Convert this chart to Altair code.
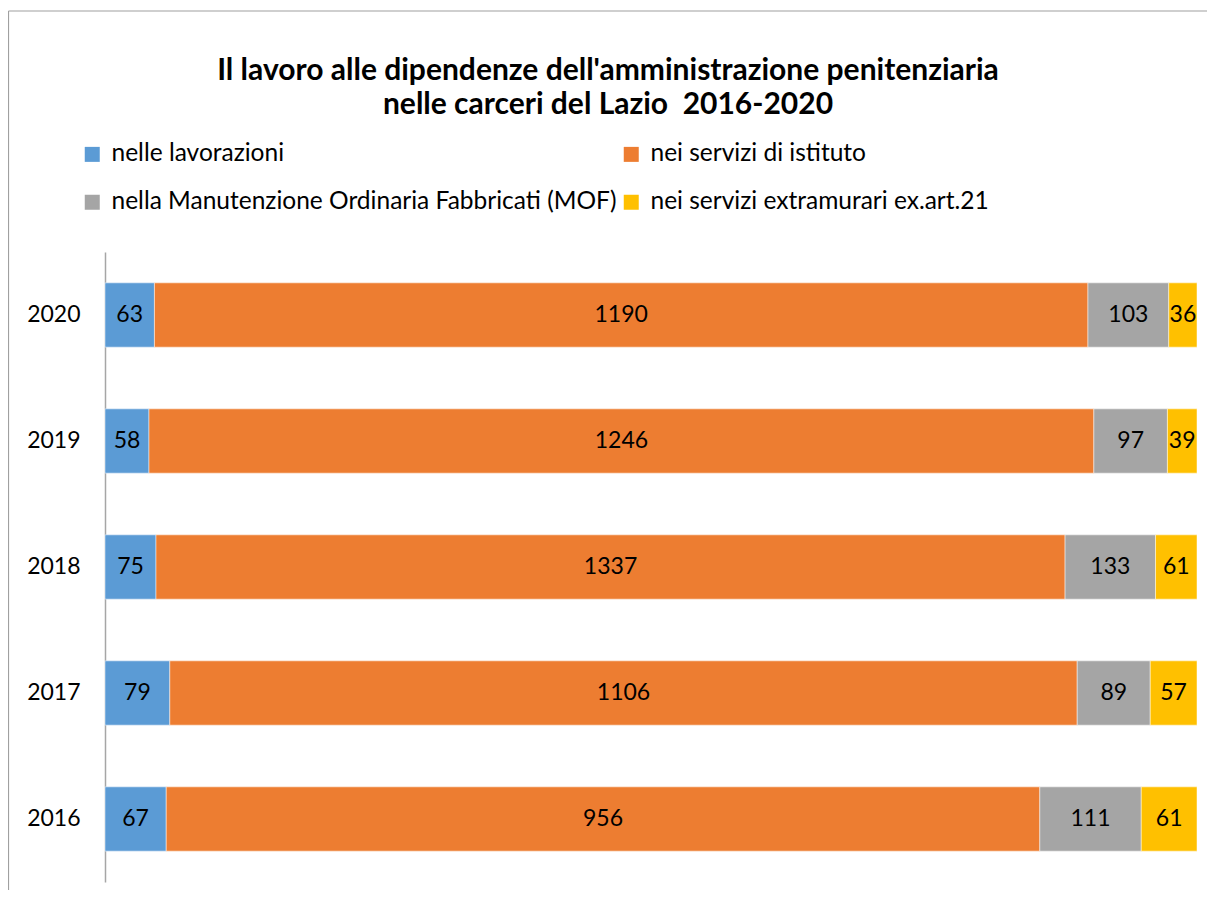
import altair as alt
import pandas as pd

years = ["2020", "2019", "2018", "2017", "2016"]
categories = [
    "nelle lavorazioni",
    "nei servizi di istituto",
    "nella Manutenzione Ordinaria Fabbricati (MOF)",
    "nei servizi extramurari ex.art.21",
]
lavorazioni = [63, 58, 75, 79, 67]
servizi_istituto = [1190, 1246, 1337, 1106, 956]
mof = [103, 97, 133, 89, 111]
extramurari = [36, 39, 61, 57, 61]
colors = ["#5B9BD5", "#ED7D31", "#A5A5A5", "#FFC000"]

series = [lavorazioni, servizi_istituto, mof, extramurari]
rows = []
for ci, (cat, vals) in enumerate(zip(categories, series)):
    for y, v in zip(years, vals):
        rows.append({"year": y, "cat": cat, "order": ci, "value": v})
df = pd.DataFrame(rows)

W, H = 1092, 630
FONT = "Lato"

base = (
    alt.Chart(df)
    .transform_stack(
        stack="value",
        groupby=["year"],
        sort=[alt.SortField("order", order="ascending")],
        as_=["v0", "v1"],
        offset="normalize",
    )
    .transform_calculate(mid="(datum.v0 + datum.v1) / 2")
)

yenc = alt.Y(
    "year:N",
    sort=years,
    title=None,
    scale=alt.Scale(paddingInner=0.49, paddingOuter=0.245),
    axis=alt.Axis(
        ticks=False,
        labelPadding=25,
        labelFontSize=23,
        labelFont=FONT,
        labelColor="#000000",
        domainColor="#A6A6A6",
        domainWidth=1.5,
    ),
)

bars = base.mark_bar(stroke="#ffffff", strokeWidth=0.8, strokeOpacity=0.6).encode(
    x=alt.X("v0:Q", scale=alt.Scale(domain=[0, 1]), axis=None),
    x2="v1:Q",
    y=yenc,
    color=alt.Color(
        "cat:N",
        sort=categories,
        scale=alt.Scale(domain=categories, range=colors),
        legend=alt.Legend(
            title=None,
            orient="none",
            legendX=-25,
            legendY=-110,
            columns=2,
            direction="horizontal",
            symbolType="square",
            symbolSize=225,
            symbolStrokeWidth=0,
            labelFontSize=24.5,
            labelFont=FONT,
            labelColor="#000000",
            labelOffset=7,
            labelLimit=700,
            columnPadding=2,
            rowPadding=23,
        ),
    ),
    order=alt.Order("order:Q"),
)

labels = base.mark_text(fontSize=23, font=FONT, color="#000000").encode(
    x=alt.X("mid:Q", scale=alt.Scale(domain=[0, 1]), axis=None),
    y=alt.Y("year:N", sort=years),
    text=alt.Text("value:Q"),
)

frame_df = pd.DataFrame({"a": [0]})
frame_left = alt.Chart(frame_df).mark_rule(color="#A0A0A0", strokeWidth=1.2).encode(
    x=alt.value(-96.5), y=alt.value(-241), y2=alt.value(H + 40)
)
frame_top = alt.Chart(frame_df).mark_rule(color="#A0A0A0", strokeWidth=1.2).encode(
    y=alt.value(-241), x=alt.value(-96.5), x2=alt.value(W + 40)
)

chart = (
    alt.layer(bars, labels, frame_left, frame_top)
    .properties(
        width=W,
        height=H,
        background="#ffffff",
        autosize=alt.AutoSizeParams(type="none"),
        padding={"left": 97, "top": 244, "right": 10, "bottom": 8},
        title=alt.TitleParams(
            text=[
                "Il lavoro alle dipendenze dell'amministrazione penitenziaria",
                "nelle carceri del Lazio\u00a0 2016-2020",
            ],
            font=FONT,
            fontSize=30,
            fontWeight="bold",
            color="#000000",
            anchor="middle",
            dx=-43,
            lineHeight=34,
            offset=-110,
        ),
    )
    .configure_view(strokeWidth=0, stroke="transparent")
)

chart.save("out.html", embed_options={"renderer": "svg", "actions": False})
